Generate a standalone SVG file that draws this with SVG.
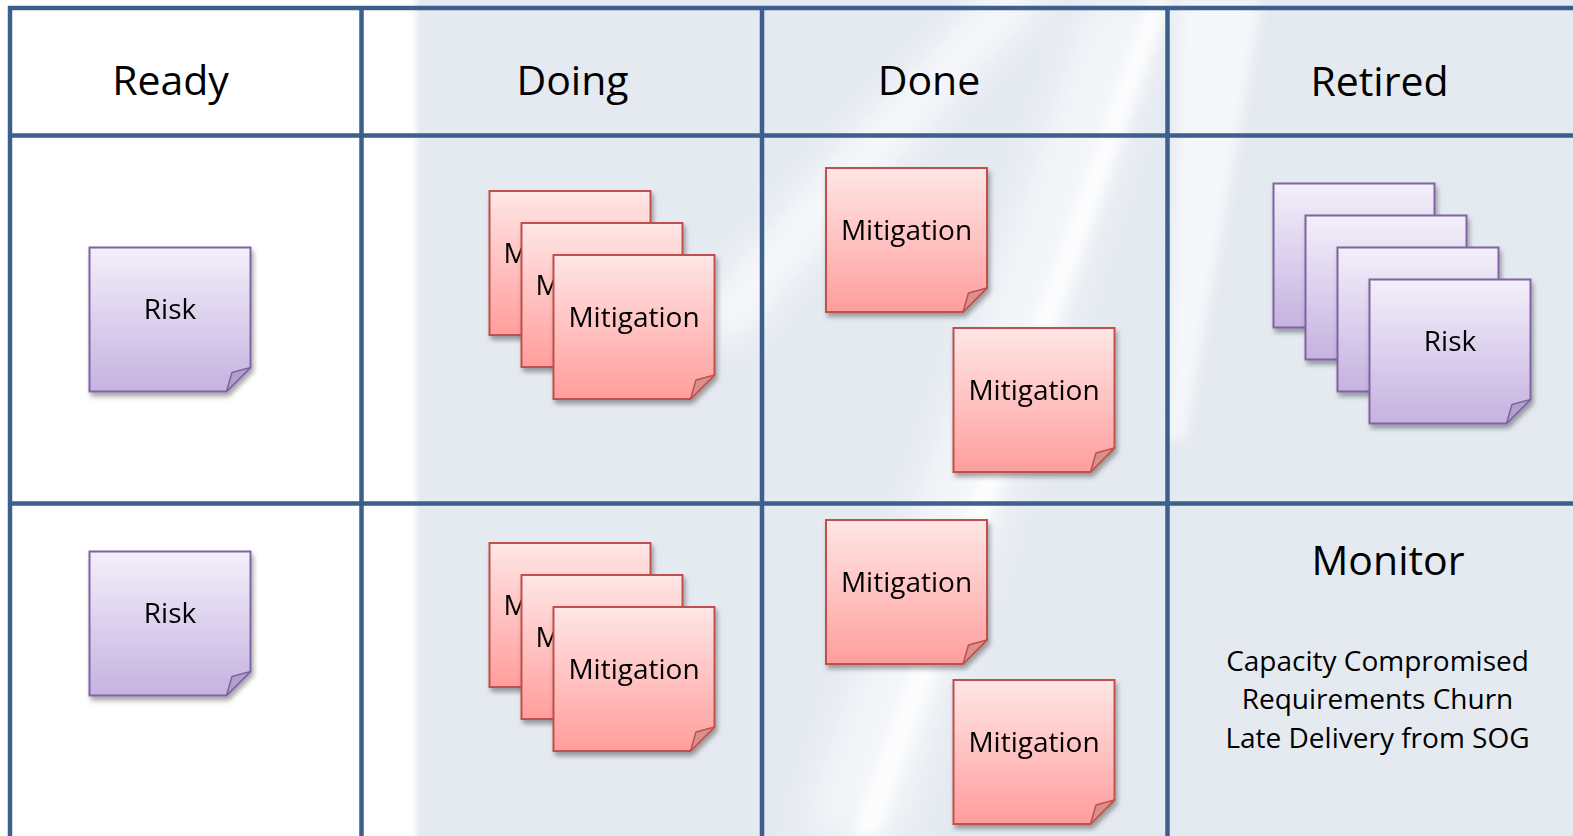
<svg xmlns="http://www.w3.org/2000/svg" width="1573" height="836" viewBox="0 0 1573 836">
  <defs>
    <linearGradient id="gRisk" x1="0" y1="0" x2="0" y2="1">
      <stop offset="0" stop-color="#f3effa"/>
      <stop offset="1" stop-color="#c5b2e1"/>
    </linearGradient>
    <linearGradient id="gMit" x1="0" y1="0" x2="0" y2="1">
      <stop offset="0" stop-color="#ffe6e6"/>
      <stop offset="1" stop-color="#ff9e9c"/>
    </linearGradient>
    <linearGradient id="gEdge" x1="0" y1="0" x2="1" y2="0">
      <stop offset="0" stop-color="#ffffff"/>
      <stop offset="1" stop-color="#e5eaf1"/>
    </linearGradient>
    <filter id="shadow" x="-10%" y="-10%" width="125%" height="125%">
      <feDropShadow dx="2" dy="4" stdDeviation="2.5" flood-color="#000" flood-opacity="0.35"/>
    </filter>
    <filter id="soft" x="-50%" y="-50%" width="200%" height="200%">
      <feGaussianBlur stdDeviation="18"/>
    </filter>
    <filter id="softer" x="-50%" y="-50%" width="200%" height="200%">
      <feGaussianBlur stdDeviation="6"/>
    </filter>
    <!-- sticky note outline with folded corner, 161 x 144 -->
    <path id="noteShape" d="M0,0 H161 V120 L137,144 H0 Z"/>
    <path id="flapShape" d="M161,120 L142.5,125 L137,144 Z"/>
  </defs>
  <style>
    .hdr { font-family: "Open Sans", "Noto Sans", sans-serif; font-size: 41px; fill: #000; text-anchor: middle; }
    .lbl { font-family: "Open Sans", "Noto Sans", sans-serif; font-size: 28px; fill: #000; text-anchor: middle; }
    .lbl.peek { text-anchor: start; }
    .grid line { stroke: #3d5f8e; stroke-width: 4.5; }
    .risk .body { fill: url(#gRisk); stroke: #8064a2; stroke-width: 2; }
    .risk .flap { fill: #b3a0cf; stroke: #8064a2; stroke-width: 1.5; stroke-linejoin: round; }
    .mit .body { fill: url(#gMit); stroke: #c0504d; stroke-width: 2; }
    .mit .flap { fill: #d9918f; stroke: #c0504d; stroke-width: 1.5; stroke-linejoin: round; }
    .note { filter: url(#shadow); }
  </style>

  <!-- background -->
  <g id="background">
    <rect x="0" y="0" width="1573" height="836" fill="#ffffff"/>
    <rect x="418" y="0" width="1155" height="836" fill="#e5eaf1"/>
    <rect x="412" y="0" width="8" height="836" fill="url(#gEdge)"/>
    <!-- light swooshes -->
    <path d="M1000,-20 C930,60 830,150 690,330 L740,340 C860,190 960,90 1060,-20 Z" fill="#ffffff" opacity="0.75" filter="url(#soft)"/>
    <path d="M1090,0 L1170,0 L900,836 L800,836 Z" fill="#ffffff" opacity="0.55" filter="url(#soft)"/>
    <path d="M1148,0 L1170,0 L878,836 L852,836 Z" fill="#ffffff" opacity="0.8" filter="url(#softer)"/>
    <path d="M1180,0 L1262,0 L1185,440 L1168,440 Z" fill="#ffffff" opacity="0.6" filter="url(#softer)"/>
  </g>

  <!-- board grid -->
  <g id="grid" class="grid">
    <line x1="8" y1="8" x2="1573" y2="8"/>
    <line x1="10" y1="6" x2="10" y2="836"/>
    <line x1="361.5" y1="8" x2="361.5" y2="836"/>
    <line x1="762" y1="8" x2="762" y2="836"/>
    <line x1="1167.5" y1="8" x2="1167.5" y2="836"/>
    <line x1="8" y1="135.5" x2="1573" y2="135.5"/>
    <line x1="8" y1="503.5" x2="1573" y2="503.5"/>
  </g>

  <!-- column headers -->
  <g id="headers">
    <text class="hdr" x="170.5" y="95">Ready</text>
    <text class="hdr" x="572.5" y="95">Doing</text>
    <text class="hdr" x="929" y="95">Done</text>
    <text class="hdr" x="1379.5" y="96">Retired</text>
  </g>

  <!-- Ready -->
  <g id="ready-risk-1" class="note risk" transform="translate(89.5,247.5)">
    <use href="#noteShape" class="body"/><use href="#flapShape" class="flap"/>
    <text class="lbl" x="80.5" y="71.5">Risk</text>
  </g>
  <g id="ready-risk-2" class="note risk" transform="translate(89.5,551.5)">
    <use href="#noteShape" class="body"/><use href="#flapShape" class="flap"/>
    <text class="lbl" x="80.5" y="71.5">Risk</text>
  </g>

  <!-- Doing, row 1 stack (only the first letter of the back notes shows) -->
  <g id="doing-mit-1a" class="note mit" transform="translate(489.5,191)">
    <use href="#noteShape" class="body"/><use href="#flapShape" class="flap"/>
    <text class="lbl peek" x="14" y="71.5">M</text>
  </g>
  <g id="doing-mit-1b" class="note mit" transform="translate(521.5,223)">
    <use href="#noteShape" class="body"/><use href="#flapShape" class="flap"/>
    <text class="lbl peek" x="14" y="71.5">M</text>
  </g>
  <g id="doing-mit-1c" class="note mit" transform="translate(553.5,255)">
    <use href="#noteShape" class="body"/><use href="#flapShape" class="flap"/>
    <text class="lbl" x="80.5" y="71.5">Mitigation</text>
  </g>

  <!-- Doing, row 2 stack -->
  <g id="doing-mit-2a" class="note mit" transform="translate(489.5,543)">
    <use href="#noteShape" class="body"/><use href="#flapShape" class="flap"/>
    <text class="lbl peek" x="14" y="71.5">M</text>
  </g>
  <g id="doing-mit-2b" class="note mit" transform="translate(521.5,575)">
    <use href="#noteShape" class="body"/><use href="#flapShape" class="flap"/>
    <text class="lbl peek" x="14" y="71.5">M</text>
  </g>
  <g id="doing-mit-2c" class="note mit" transform="translate(553.5,607)">
    <use href="#noteShape" class="body"/><use href="#flapShape" class="flap"/>
    <text class="lbl" x="80.5" y="71.5">Mitigation</text>
  </g>

  <!-- Done -->
  <g id="done-mit-1a" class="note mit" transform="translate(826,168)">
    <use href="#noteShape" class="body"/><use href="#flapShape" class="flap"/>
    <text class="lbl" x="80.5" y="71.5">Mitigation</text>
  </g>
  <g id="done-mit-1b" class="note mit" transform="translate(953.5,328)">
    <use href="#noteShape" class="body"/><use href="#flapShape" class="flap"/>
    <text class="lbl" x="80.5" y="71.5">Mitigation</text>
  </g>
  <g id="done-mit-2a" class="note mit" transform="translate(826,520)">
    <use href="#noteShape" class="body"/><use href="#flapShape" class="flap"/>
    <text class="lbl" x="80.5" y="71.5">Mitigation</text>
  </g>
  <g id="done-mit-2b" class="note mit" transform="translate(953.5,680)">
    <use href="#noteShape" class="body"/><use href="#flapShape" class="flap"/>
    <text class="lbl" x="80.5" y="71.5">Mitigation</text>
  </g>

  <!-- Retired stack -->
  <g id="retired-risk-a" class="note risk" transform="translate(1273.5,183.5)">
    <use href="#noteShape" class="body"/><use href="#flapShape" class="flap"/>
  </g>
  <g id="retired-risk-b" class="note risk" transform="translate(1305.5,215.5)">
    <use href="#noteShape" class="body"/><use href="#flapShape" class="flap"/>
  </g>
  <g id="retired-risk-c" class="note risk" transform="translate(1337.5,247.5)">
    <use href="#noteShape" class="body"/><use href="#flapShape" class="flap"/>
  </g>
  <g id="retired-risk-d" class="note risk" transform="translate(1369.5,279.5)">
    <use href="#noteShape" class="body"/><use href="#flapShape" class="flap"/>
    <text class="lbl" x="80.5" y="71.5">Risk</text>
  </g>

  <!-- Monitor cell -->
  <g id="monitor">
    <text class="hdr" x="1388" y="575">Monitor</text>
    <text class="lbl" x="1377.5" y="671">Capacity Compromised</text>
    <text class="lbl" x="1377.5" y="709">Requirements Churn</text>
    <text class="lbl" x="1377.5" y="748">Late Delivery from SOG</text>
  </g>
</svg>
